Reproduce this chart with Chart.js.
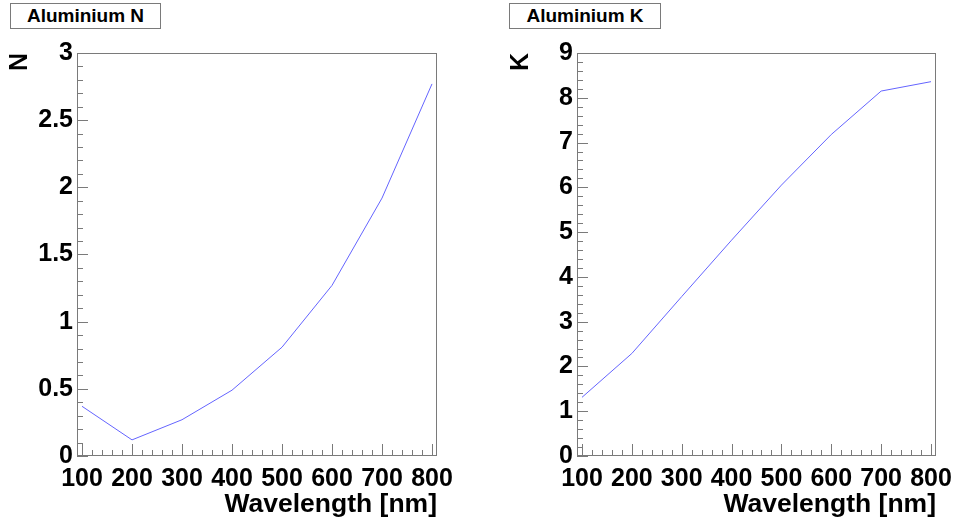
<!DOCTYPE html>
<html>
<head>
<meta charset="utf-8">
<script src="https://cdn.jsdelivr.net/npm/chart.js@4/dist/chart.umd.min.js"></script>
<style>
  html, body { margin: 0; padding: 0; background: #ffffff; }
  #wrap { position: relative; width: 954px; height: 523px; overflow: hidden; background: #fff; }
  canvas { position: absolute; top: 0; }
  .pave { position: absolute; top: 3px; height: 26px; box-sizing: border-box; border: 1px solid #7a7a7a;
          font: bold 19px "Liberation Sans", Arial, sans-serif; color: #000; text-align: center; line-height: 24px; background: #fff; }
</style>
</head>
<body>
<div id="wrap">
  <canvas id="cN" width="477" height="523" style="left:0px"></canvas>
  <canvas id="cK" width="477" height="523" style="left:477px"></canvas>
  <div class="pave" style="left:10px; width:151px;">Aluminium N</div>
  <div class="pave" style="left:509px; width:152px;">Aluminium K</div>
</div>
<script>
// ---- data ----
const wavelengths = [100, 200, 300, 400, 500, 600, 700, 800];
const nValues = [0.37, 0.12, 0.27, 0.49, 0.81, 1.27, 1.92, 2.77];
const kValues = [1.31, 2.29, 3.56, 4.82, 6.05, 7.18, 8.15, 8.36];
const xTickValues = [100, 200, 300, 400, 500, 600, 700, 800];
const nTickValues = [0, 0.5, 1, 1.5, 2, 2.5, 3];
const kTickValues = [0, 1, 2, 3, 4, 5, 6, 7, 8, 9];
const xTitle = 'Wavelength [nm]';

const FONT = '"Liberation Sans", Arial, Helvetica, sans-serif';
const AXIS_GREY = '#7a7a7a';

// ROOT-like frame with inner major/minor ticks, positioned by the chart scales
const rootFrame = {
  id: 'rootFrame',
  afterDraw(chart, args, opts) {
    const {ctx, chartArea: a, scales: {x, y}} = chart;
    ctx.save();
    ctx.strokeStyle = AXIS_GREY;
    ctx.lineWidth = 1;
    ctx.strokeRect(Math.round(a.left) + 0.5, Math.round(a.top) + 0.5,
                   Math.round(a.right - a.left) - 1, Math.round(a.bottom - a.top) - 1);
    ctx.beginPath();
    const xStart = Math.ceil(x.min / opts.xMinor) * opts.xMinor;
    for (let v = xStart; v <= x.max + 1e-9; v += opts.xMinor) {
      const isMajor = Math.abs(v / opts.xMajor - Math.round(v / opts.xMajor)) < 1e-6;
      const px = Math.round(x.getPixelForValue(v)) + 0.5;
      const len = isMajor ? 12 : 6;
      ctx.moveTo(px, a.bottom);
      ctx.lineTo(px, a.bottom - len);
    }
    const yStart = Math.ceil(y.min / opts.yMinor - 1e-9) * opts.yMinor;
    for (let v = yStart; v <= y.max + 1e-9; v += opts.yMinor) {
      const isMajor = Math.abs(v / opts.yMajor - Math.round(v / opts.yMajor)) < 1e-6;
      const py = Math.round(y.getPixelForValue(v)) + 0.5;
      const len = isMajor ? 11 : 6;
      ctx.moveTo(a.left, py);
      ctx.lineTo(a.left + len, py);
    }
    ctx.stroke();
    ctx.restore();
  }
};

function makeChart(canvasId, values, yLabel, yMax, yTicks, layoutCfg) {
  const pts = wavelengths.map((w, i) => ({x: w, y: values[i]}));
  return new Chart(document.getElementById(canvasId), {
    type: 'line',
    data: {
      datasets: [{
        data: pts,
        borderColor: '#6464ff',
        borderWidth: 1,
        pointRadius: 0,
        tension: 0,
        fill: false
      }]
    },
    options: {
      responsive: false,
      animation: false,
      devicePixelRatio: 1,
      layout: { padding: { top: 53, right: layoutCfg.right, left: 0, bottom: 0 } },
      plugins: {
        legend: { display: false },
        tooltip: { enabled: false },
        title: { display: false },
        rootFrame: { xMinor: 20, xMajor: 100, yMinor: layoutCfg.yMinor, yMajor: layoutCfg.yMajor }
      },
      scales: {
        x: {
          type: 'linear',
          min: 90, max: 810,
          grid: { display: false, drawTicks: false },
          border: { display: false },
          afterBuildTicks: s => { s.ticks = xTickValues.map(v => ({value: v})); },
          afterFit: s => { s.height = 67; s.paddingLeft = 0; s.paddingRight = 0; },
          ticks: {
            autoSkip: false, maxRotation: 0, minRotation: 0,
            padding: layoutCfg.xPad,
            color: '#000',
            font: { family: FONT, size: 25, weight: 'bold' },
            callback: v => String(v)
          },
          title: {
            display: true, text: xTitle, align: 'end', color: '#000',
            font: { family: FONT, size: 26.5, weight: 'bold' },
            padding: { top: 0, bottom: 2 }
          }
        },
        y: {
          type: 'linear',
          min: 0, max: yMax,
          grid: { display: false, drawTicks: false },
          border: { display: false },
          afterBuildTicks: s => { s.ticks = yTicks.map(v => ({value: v})); },
          afterFit: s => { s.width = layoutCfg.left; s.paddingTop = 0; s.paddingBottom = 0; },
          ticks: {
            autoSkip: false,
            padding: 4,
            color: '#000',
            font: { family: FONT, size: 25, weight: 'bold' },
            callback: v => String(v)
          },
          title: {
            display: true, text: yLabel, align: 'end', color: '#000',
            font: { family: FONT, size: 25, weight: 'bold' },
            padding: { top: layoutCfg.yTitlePad, bottom: 0 }
          }
        }
      }
    },
    plugins: [rootFrame]
  });
}

makeChart('cN', nValues, 'N', 3, nTickValues,
  { left: 77, right: 40, yMinor: 0.1, yMajor: 0.5, yTitlePad: 5, xPad: 8 });
makeChart('cK', kValues, 'K', 9, kTickValues,
  { left: 100, right: 18, yMinor: 0.2, yMajor: 1, yTitlePad: 29, xPad: 8 });
</script>
</body>
</html>
